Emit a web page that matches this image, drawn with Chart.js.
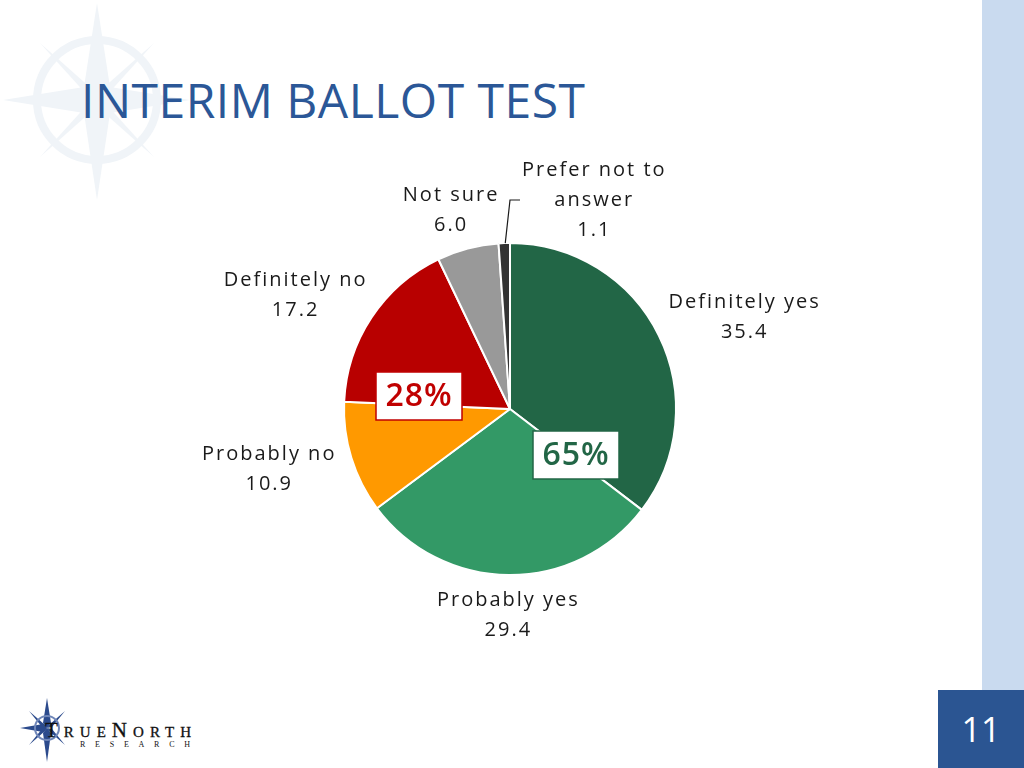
<!DOCTYPE html>
<html>
<head>
<meta charset="utf-8">
<script src="https://cdn.jsdelivr.net/npm/chart.js@4.4.1/dist/chart.umd.min.js"></script>
<style>
  html, body { margin: 0; padding: 0; background: #fff; }
  #page { position: relative; width: 1024px; height: 768px; overflow: hidden; background: #fff; }
  #sidebar { position: absolute; left: 982px; top: 0; width: 42px; height: 768px; background: #c9daef; }
  #pagenum { position: absolute; left: 938px; top: 690px; width: 86px; height: 78px; background: #2b5592;
             color: #fff; font: 34px "Open Sans", sans-serif; text-align: center; line-height: 78px; }
  #title { position: absolute; left: 81px; top: 67px; font: 48px "Open Sans", sans-serif; color: #2b5797;
           letter-spacing: 0.5px; white-space: nowrap; }
  #wm { position: absolute; left: 0; top: 0; }
  #logo { position: absolute; left: 14px; top: 698px; }
  canvas { position: absolute; left: 0; top: 0; }
</style>
</head>
<body>
<div id="page">
  <svg id="wm" width="220" height="210" viewBox="0 0 220 210">
    <g fill="#f0f4f8" stroke="none">
      <circle cx="97" cy="100" r="60" fill="none" stroke="#f0f4f8" stroke-width="8"/>
      <polygon points="97,3 110,87 97,100 84,87"/>
      <polygon points="97,200 110,113 97,100 84,113"/>
      <polygon points="3,100 84,87 97,100 84,113"/>
      <polygon points="190,100 110,87 97,100 110,113"/>
      <polygon points="40,43 93,90 97,100 88,96"/>
      <polygon points="154,43 101,90 97,100 106,96"/>
      <polygon points="40,157 88,104 97,100 93,110"/>
      <polygon points="154,157 106,104 97,100 101,110"/>
    </g>
  </svg>
  <div id="title">INTERIM BALLOT TEST</div>
  <div id="sidebar"></div>
  <div id="pagenum">11</div>
  <svg id="logo" width="190" height="66" viewBox="0 0 190 66">
    <g fill="#2b4a8c">
      <polygon points="33,0 37,25 33,30 29,25"/>
      <polygon points="33,64 37,35 33,30 29,35"/>
      <polygon points="6,30 29,26 33,30 29,34"/>
      <polygon points="15,13 31,27 33,30 28,29"/>
      <polygon points="51,13 35,27 33,30 38,29"/>
      <polygon points="15,47 28,31 33,30 31,33"/>
      <polygon points="51,47 38,31 33,30 35,33"/>
    </g>
    <circle cx="33" cy="30" r="12" fill="none" stroke="#6f86b8" stroke-width="2"/>
    <text x="31" y="39" font-family="Liberation Serif" font-size="21" fill="#111" stroke="#111" stroke-width="0.3" textLength="146" lengthAdjust="spacing">T<tspan font-size="15">RUE</tspan>N<tspan font-size="15">ORTH</tspan></text>
    <text x="66" y="49" font-family="Liberation Serif" font-size="8" fill="#111" textLength="110" lengthAdjust="spacing">RESEARCH</text>
  </svg>
  <canvas id="myChart" width="1024" height="768"></canvas>
</div>
<script>
var categories = ['Definitely yes', 'Probably yes', 'Probably no', 'Definitely no', 'Not sure', ['Prefer not to', 'answer']];
var values = [35.4, 29.4, 10.9, 17.2, 6.0, 1.1];
var colors = ['#226646', '#339966', '#ff9900', '#b80000', '#999999', '#333333'];
// groups summed for the two callout boxes
var yesGroup = [0, 1];
var noGroup = [2, 3];

var labelFont = '20px "Open Sans", sans-serif';
var lineH = 30;

function sumOf(idx) {
    var s = 0;
    idx.forEach(function (i) { s += values[i]; });
    return Math.round(s) + '%';
}

function linesOf(i) {
    var l = categories[i];
    var arr = Array.isArray(l) ? l.slice() : [l];
    arr.push(values[i].toFixed(1));
    return arr;
}

const outsideLabels = {
    id: 'outsideLabels',
    afterDatasetsDraw(chart) {
        const ctx = chart.ctx;
        const meta = chart.getDatasetMeta(0);
        ctx.save();
        ctx.font = labelFont;
        ctx.letterSpacing = '2px';
        ctx.fillStyle = '#1a1a1a';
        ctx.textBaseline = 'middle';
        ctx.textAlign = 'center';
        meta.data.forEach(function (arc, i) {
            const mid = (arc.startAngle + arc.endAngle) / 2;
            const dx = Math.cos(mid), dy = Math.sin(mid);
            const r = arc.outerRadius;
            const lines = linesOf(i);
            let w = 0;
            lines.forEach(function (t) { w = Math.max(w, ctx.measureText(t).width); });
            const h = lines.length * lineH;
            let cx, cy;
            if (values[i] < 3) {
                // leader line for small slice
                const sx = arc.x + dx * r, sy = arc.y + dy * r;
                const ex = arc.x, ey = arc.y - r - 43;
                ctx.strokeStyle = '#1a1a1a';
                ctx.lineWidth = 1.2;
                ctx.beginPath();
                ctx.moveTo(sx + 1, sy);
                ctx.lineTo(ex, ey);
                ctx.lineTo(ex + 10, ey);
                ctx.stroke();
                cx = ex + 12 + w / 2;
                cy = ey;
            } else {
                const ax = arc.x + dx * (r + 12), ay = arc.y + dy * (r + 10);
                cx = ax + dx * w * 0.55;
                cy = ay + dy * h / 2;
            }
            lines.forEach(function (t, k) {
                ctx.fillText(t, cx, cy - h / 2 + lineH / 2 + k * lineH);
            });
        });

        // callout boxes with group totals
        const c = meta.data[0];
        function box(txt, bx, by, col) {
            ctx.font = '600 32px "Open Sans", sans-serif';
            ctx.letterSpacing = '1px';
            ctx.fillStyle = '#fff';
            ctx.fillRect(bx - 43, by - 24, 86, 48);
            ctx.strokeStyle = col;
            ctx.lineWidth = 1.5;
            ctx.strokeRect(bx - 43, by - 24, 86, 48);
            ctx.fillStyle = col;
            ctx.fillText(txt, bx, by + 1);
        }
        box(sumOf(noGroup), c.x - 91, c.y - 13, '#c00000');
        box(sumOf(yesGroup), c.x + 66, c.y + 46, '#226646');
        ctx.restore();
    }
};

const data = {
    labels: categories,
    datasets: [{
        data: values,
        backgroundColor: colors,
        borderColor: '#ffffff',
        borderWidth: 2,
        radius: 166,
        hoverOffset: 0
    }]
};

const config = {
    type: 'pie',
    data: data,
    options: {
        responsive: false,
        animation: false,
        layout: { padding: { left: 0, right: 4, top: 50, bottom: 0 } },
        plugins: {
            legend: { display: false },
            tooltip: { enabled: false }
        }
    },
    plugins: [outsideLabels]
};

const myChart = new Chart(document.getElementById('myChart'), config);
</script>
</body>
</html>
